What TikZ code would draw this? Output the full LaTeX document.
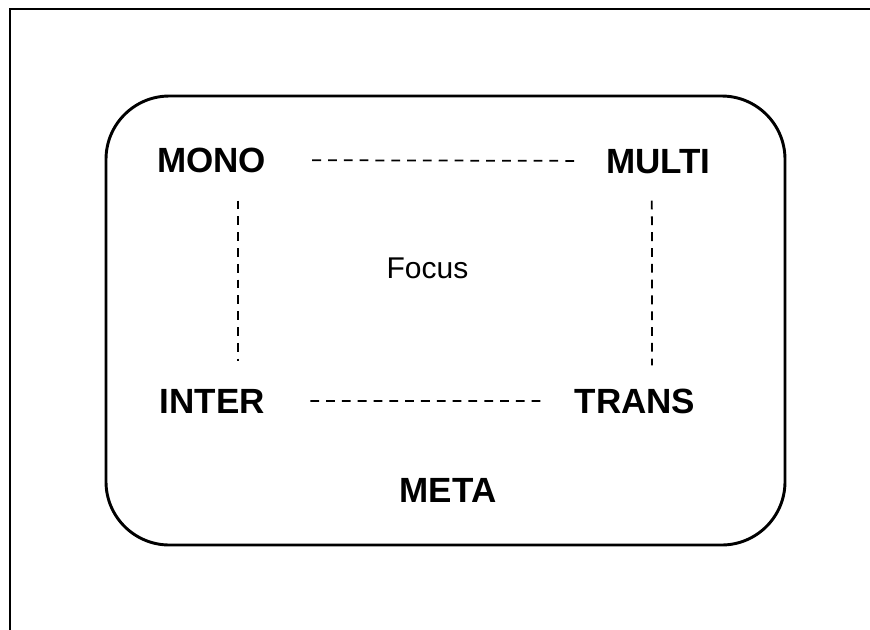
\documentclass[tikz,border=0pt]{standalone}
\usepackage{fontspec}
\setmainfont{Liberation Sans}

\begin{document}
\begin{tikzpicture}[
    term/.style={font=\fontsize{29.9}{32}\selectfont\bfseries, inner sep=0pt, anchor=base},
    focus/.style={font=\fontsize{25.6}{28}\selectfont, inner sep=0pt, anchor=base},
    link/.style={line width=1.5pt, dash pattern=on 7.5pt off 6pt},
    frame/.style={line width=1.7pt},
    field/.style={line width=2.5pt, rounded corners=1.9cm}
]
    \useasboundingbox (0,0) rectangle (26.1,-18.87);
    \clip (0,0) rectangle (26.1,-18.87);

    % page frame, running off the right and bottom edges
    \draw[frame] (0.3,-0.27) rectangle (27,-19.5);
    % rounded field holding the four terms
    \draw[field] (3.18,-2.88) rectangle (23.55,-16.35);

    \node[term] (mono)  at (6.345,-5.16)  {MONO};
    \node[term] (multi) at (19.755,-5.19) {MULTI};
    \node[term] (inter) at (6.375,-12.39) {INTER};
    \node[term] (trans) at (19.05,-12.39) {TRANS};
    \node[focus] (focus) at (12.825,-8.34) {Focus};
    \node[term] (meta)  at (13.44,-15.06) {META};

    \draw[link, shorten <=1.38cm, shorten >=0.81cm] (mono) -- (multi);
    \draw[link, shorten <=1.35cm, shorten >=0.81cm] (inter) -- (trans);
    \draw[link, shorten <=0.84cm, shorten >=0.84cm]
        ([xshift=0.8cm]mono.south) -- ([xshift=0.77cm]inter.north);
    \draw[link, shorten <=0.81cm, shorten >=0.69cm]
        ([xshift=-0.2cm]multi.south) -- ([xshift=0.51cm]trans.north);
\end{tikzpicture}
\end{document}
